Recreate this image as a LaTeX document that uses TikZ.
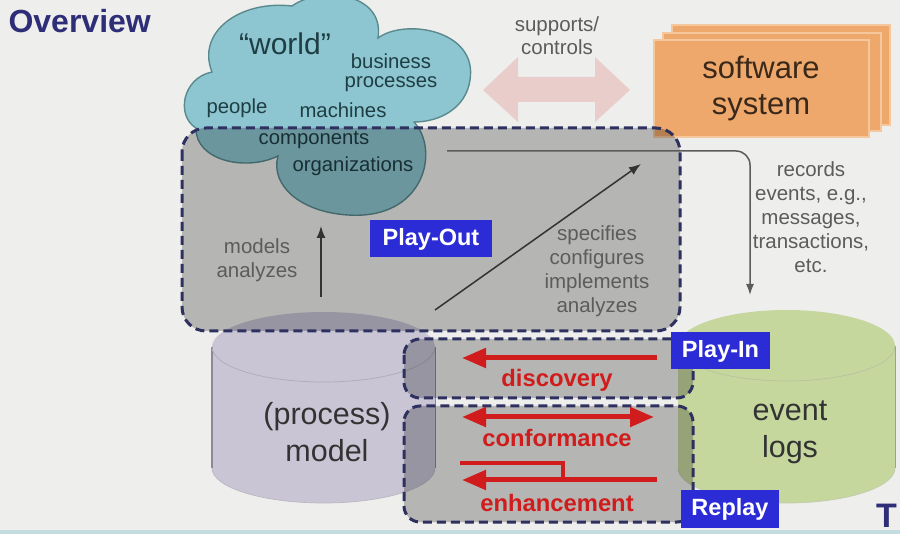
\documentclass[tikz,border=0pt]{standalone}
\usepackage{fontspec}
\setmainfont{Liberation Sans}
\usetikzlibrary{arrows.meta}

\definecolor{bgc}{HTML}{EEEEEC}
\definecolor{navy}{HTML}{2E3160}
\definecolor{titlec}{HTML}{2E2E78}
\definecolor{cloudc}{HTML}{8DC6D0}
\definecolor{cloudline}{HTML}{5A8A8E}
\definecolor{cloudtxt}{HTML}{1F3E44}
\definecolor{pinkc}{HTML}{E8CDCB}
\definecolor{orangec}{HTML}{EFA86B}
\definecolor{orangeline}{HTML}{F5C79C}
\definecolor{swtxt}{HTML}{3A291A}
\definecolor{modelc}{HTML}{C9C5D5}
\definecolor{modelline}{HTML}{8C889A}
\definecolor{logc}{HTML}{C6D79E}
\definecolor{logline}{HTML}{98A878}
\definecolor{greytxt}{HTML}{5C5C5C}
\definecolor{darktxt}{HTML}{333333}
\definecolor{bluec}{HTML}{2C2CD6}
\definecolor{redc}{HTML}{D01C1C}
\definecolor{footc}{HTML}{C3DCE0}

\tikzset{
  overlay box/.style={fill=black, fill opacity=0.24, draw=navy, draw opacity=1,
    line width=3pt, dash pattern=on 9pt off 5pt},
  tag/.style={fill=bluec, text=white, font=\fontsize{23.5}{23.5}\selectfont\bfseries,
    inner sep=0pt, minimum height=37pt},
  greylabel/.style={text=greytxt, font=\fontsize{20.5}{24}\selectfont, align=center},
  cloudlabel/.style={text=cloudtxt, font=\fontsize{20.3}{20}\selectfont},
  redlabel/.style={text=redc, font=\fontsize{23.8}{23.8}\selectfont\bfseries},
  redarrow/.style={draw=redc, line width=5pt, -{Triangle[length=24pt,width=19pt]}},
  greyarrow/.style={draw=darktxt, line width=1.5pt, -{Latex[length=12pt,width=9pt]}},
  cyltxt/.style={text=darktxt, font=\fontsize{30.5}{37}\selectfont, align=center},
}

\begin{document}
\begin{tikzpicture}[x=1pt,y=-1pt]
% canvas
\fill[bgc] (0,0) rectangle (900,534);
\useasboundingbox (0,0) rectangle (900,534);
\fill[footc] (0,530) rectangle (900,534);

% title
\node[anchor=west, text=titlec, font=\fontsize{32}{32}\selectfont\bfseries] (title) at (5,21) {Overview};

% the world cloud
\path[fill=cloudc, draw=cloudline, line width=1.4pt]
  (212,72) .. controls (196,32) and (240,0) .. (292,6)
  .. controls (320,-14) and (385,-8) .. (378,38)
  .. controls (405,18) and (478,30) .. (470,80)
  .. controls (466,108) and (440,122) .. (414,122)
  .. controls (440,150) and (425,220) .. (348,215)
  .. controls (300,212) and (270,185) .. (278,156)
  .. controls (245,172) and (195,160) .. (196,128)
  .. controls (176,116) and (182,78) .. (212,72) -- cycle;
\node[text=cloudtxt, font=\fontsize{30}{30}\selectfont] (world) at (285,44) {“world”};
\node[cloudlabel] (business) at (391,61) {business};
\node[cloudlabel] (processes) at (391,84) {processes};
\node[cloudlabel] (people) at (237,108) {people};
\node[cloudlabel] (machines) at (343,110) {machines};
\node[cloudlabel] (components) at (314,140) {components};
\node[cloudlabel] (organizations) at (353,166) {organizations};

% supports / controls
\path[fill=pinkc] (483,90) -- (518,57) -- (518,77) -- (595,77) -- (595,57) -- (630,90)
  -- (595,122) -- (595,102) -- (518,102) -- (518,122) -- cycle;
\node[greylabel, font=\fontsize{20.5}{23}\selectfont] (supports) at (557,36) {supports/\\controls};

% software system: three stacked sheets
\path[fill=orangec, draw=orangeline, line width=1.2pt] (672,25) rectangle (890,125);
\path[fill=orangec, draw=orangeline, line width=1.2pt] (663,33) rectangle (881,131);
\path[fill=orangec, draw=orangeline, line width=1.2pt] (654,40) rectangle (869,137);
\node[text=swtxt, font=\fontsize{31}{36}\selectfont, align=center] (software) at (761,89) {software\\system};

% (process) model cylinder
\path[fill=modelc] (212,347) -- (212,468)
  arc[start angle=180, end angle=0, x radius=111.5, y radius=35] -- (435,347)
  arc[start angle=0, end angle=-180, x radius=111.5, y radius=35] -- cycle;
\draw[modelline, line width=1.2pt] (212,347) -- (212,468);
\draw[modelline, line width=0.8pt] (435,347) -- (435,468);
\draw[modelline!70, line width=0.7pt] (212,347) arc[start angle=180, end angle=0, x radius=111.5, y radius=35];
\draw[modelline!60, line width=0.7pt] (212,468) arc[start angle=180, end angle=0, x radius=111.5, y radius=35];
\node[cyltxt] (model) at (327,432) {(process)\\model};

% event logs cylinder
\path[fill=logc] (678,346) -- (678,468)
  arc[start angle=180, end angle=0, x radius=108.5, y radius=35] -- (895,346)
  arc[start angle=0, end angle=-180, x radius=108.5, y radius=36] -- cycle;
\draw[logline, line width=0.8pt] (895,346) -- (895,468);
\draw[logline!70, line width=0.7pt] (678,346) arc[start angle=180, end angle=0, x radius=108.5, y radius=35];
\draw[logline!60, line width=0.7pt] (678,468) arc[start angle=180, end angle=0, x radius=108.5, y radius=35];
\node[cyltxt] (logs) at (790,432) {event\\logs};

% play-out region
\path[overlay box, rounded corners=24pt] (182,128) rectangle (680,331);

% play-in and replay regions
\path[overlay box, rounded corners=16pt] (404,339) rectangle (693,398);
\path[overlay box, rounded corners=16pt] (404,406) rectangle (693,522);

% recording connector
\coordinate (recstart) at (447,151);
\coordinate (rectip) at (750,295);
\draw[draw=greytxt, line width=1.5pt, rounded corners=14pt, -{Latex[length=11pt,width=8pt]}]
  (recstart) -- (750,151) -- (rectip);
\node[greylabel] (records) at (811,217) {records\\events, e.g.,\\messages,\\transactions,\\etc.};

% model <-> world
\coordinate (mbase) at (321,297);
\coordinate (mtip) at (321,226);
\draw[greyarrow] (mbase) -- (mtip);
\node[greylabel] (models) at (257,260) {models\\analyzes};

\coordinate (sbase) at (435,310);
\coordinate (stip) at (641,164);
\draw[greyarrow] (sbase) -- (stip);
\node[greylabel] (specifies) at (597,271) {specifies\\configures\\implements\\analyzes};

\node[tag, minimum width=122pt] (playout) at (431,239) {Play-Out};

% discovery / conformance / enhancement
\coordinate (dR) at (657,358);
\coordinate (dL) at (462,358);
\draw[redarrow] (dR) -- (dL);
\node[redlabel] (discovery) at (557,380) {discovery};

\coordinate (cL) at (462,417);
\coordinate (cR) at (654,417);
\draw[redarrow, {Triangle[length=24pt,width=19pt]}-{Triangle[length=24pt,width=19pt]}] (cL) -- (cR);
\node[redlabel] (conformance) at (557,438) {conformance};

\coordinate (eR) at (657,480);
\coordinate (eL) at (462,480);
\coordinate (eT) at (460,463);
\coordinate (eJ) at (563,480);
\draw[redarrow] (eR) -- (eL);
\draw[draw=redc, line width=4pt] (eT) -- (eJ |- eT) -- (eJ);
\node[redlabel] (enhancement) at (557,503) {enhancement};

\node[tag, minimum width=99pt] (playin) at (720.5,351) {Play-In};
\node[tag, minimum width=98pt, minimum height=38pt] (replay) at (730,509) {Replay};

% logo letter at the corner
\node[anchor=west, text=titlec, font=\fontsize{34}{34}\selectfont\bfseries, inner sep=0pt] (logo) at (876,516) {T};
\end{tikzpicture}
\end{document}
